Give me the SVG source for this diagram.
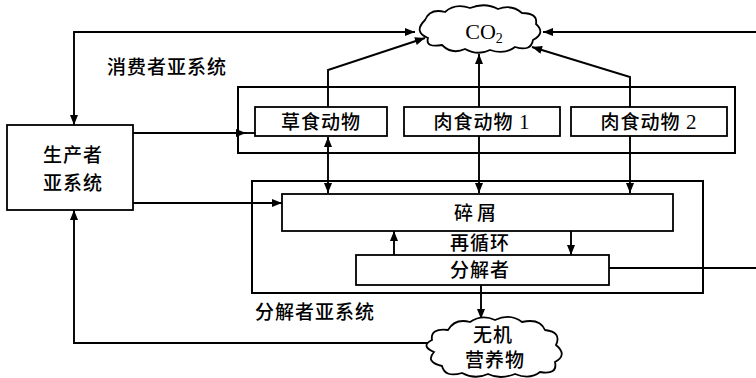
<svg xmlns="http://www.w3.org/2000/svg" width="756" height="378" viewBox="0 0 756 378">
<style>
.box{fill:#fff;stroke:#000;stroke-width:1.8}
.frame{fill:none;stroke:#000;stroke-width:2}
.cloud{fill:#fff;stroke:#000;stroke-width:1.8}
.t{font-family:"Noto Sans CJK SC","Noto Sans",sans-serif;font-size:19px;font-weight:500;fill:#000;text-anchor:middle;letter-spacing:1px}
.ts{text-anchor:start}
.num{font-family:"Liberation Serif",serif;font-size:21px;font-weight:400}
.con path{fill:none;stroke:#000;stroke-width:1.9}
.ar{marker-end:url(#arr)}
.ar2{marker-start:url(#arr);marker-end:url(#arr)}
</style>
<defs>
<marker id="arr" viewBox="0 0 10 8" refX="10" refY="4" markerWidth="12" markerHeight="8" orient="auto-start-reverse" markerUnits="userSpaceOnUse">
<path d="M0,0 L10,4 L0,8 Z" fill="#000"/>
</marker>
</defs>
<rect width="756" height="378" fill="#fff"/>

<g id="consumer-subsystem">
<rect class="frame" x="238" y="87" width="497" height="66"/>
<text class="t ts" x="107" y="74">消费者亚系统</text>
</g>
<g id="decomposer-subsystem">
<rect class="frame" x="252" y="181" width="451" height="112"/>
<text class="t ts" x="255" y="319">分解者亚系统</text>
</g>

<g class="con" id="connectors">
<path class="ar2" d="M74,125 V32 H415"/>
<path class="ar" d="M133,133 H246"/>
<path d="M246,133 H255"/>
<path class="ar" d="M133,203 H282"/>
<path class="ar" d="M328,107 V70 L425,38"/>
<path class="ar" d="M479,107 V54"/>
<path class="ar" d="M630,107 V77 L532,47"/>
<path class="ar" d="M756,32 H543"/>
<path class="ar2" d="M328,137 V193"/>
<path class="ar" d="M479,136 V193"/>
<path class="ar" d="M630,136 V193"/>
<path class="ar" d="M394,255 V231"/>
<path class="ar" d="M571,231 V255"/>
<path d="M609,268 H756"/>
<path class="ar" d="M481,285 V319"/>
<path class="ar" d="M428,343 H74 V210"/>
</g>

<g id="producer">
<rect class="box" x="7" y="125" width="126" height="85"/>
<text class="t" x="73" y="162">生产者</text>
<text class="t" x="73" y="190">亚系统</text>
</g>
<g id="herbivore">
<rect class="box" x="255" y="107" width="132" height="29"/>
<text class="t" x="321" y="129">草食动物</text>
</g>
<g id="carnivore1">
<rect class="box" x="404" y="107" width="156" height="29"/>
<text class="t" x="482" y="129">肉食动物 <tspan class="num">1</tspan></text>
</g>
<g id="carnivore2">
<rect class="box" x="571" y="107" width="156" height="29"/>
<text class="t" x="649" y="129">肉食动物 <tspan class="num">2</tspan></text>
</g>
<g id="detritus">
<rect class="box" x="282" y="194" width="391" height="37"/>
<text class="t" x="477" y="220" style="letter-spacing:4px">碎屑</text>
</g>
<g id="recycle">
<text class="t" x="480" y="250">再循环</text>
</g>
<g id="decomposer">
<rect class="box" x="356" y="255" width="253" height="30"/>
<text class="t" x="480" y="277">分解者</text>
</g>
<g id="co2">
<path class="cloud" d="M425,20 Q430,8 445,12 Q455,3 470,8 Q485,2 498,9 Q512,4 522,13 Q538,13 536,24 Q546,33 533,40 Q531,52 515,47 Q505,55 490,50 Q478,56 465,49 Q452,55 442,45 Q425,48 428,38 Q413,32 425,20 Z"/>
<text x="484" y="39" font-family="'Liberation Serif',serif" font-size="22" text-anchor="middle">CO<tspan font-size="14" dy="4">2</tspan></text>
</g>
<g id="nutrients">
<path class="cloud" d="M432,340 Q430,328 448,330 Q455,318 470,322 Q482,314 495,320 Q510,313 522,322 Q540,318 545,330 Q562,332 556,345 Q568,355 555,362 Q558,375 540,372 Q530,380 515,374 Q500,380 488,374 Q475,380 462,373 Q445,378 442,366 Q425,362 434,352 Q420,346 432,340 Z"/>
<text class="t" x="493" y="342">无机</text>
<text class="t" x="495" y="367">营养物</text>
</g>
</svg>
